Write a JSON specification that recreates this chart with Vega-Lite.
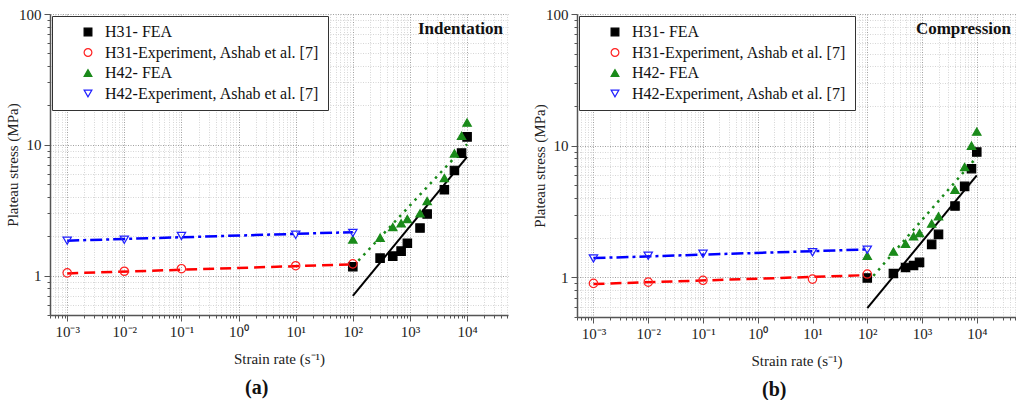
{
  "$schema": "https://vega.github.io/schema/vega-lite/v6.json",
  "padding": {"left": 5, "top": 7, "right": 0, "bottom": 0},
  "background": "white",
  "spacing": 24,
  "config": {
    "view": {"stroke": null},
    "font": "Liberation Serif",
    "legend": {"title": null, "orient": "top-left", "offset": 2, "padding": 8, "strokeColor": "#333", "fillColor": "white", "labelFont": "Liberation Serif", "labelFontSize": 16, "labelColor": "#111", "symbolOffset": 20, "labelOffset": 9, "rowPadding": 4.5, "symbolSize": 60, "symbolStrokeWidth": 1.2, "labelLimit": 400}
  },
  "resolve": {"scale": {"fill": "independent", "stroke": "independent", "shape": "independent"}},
  "datasets": {
    "pts": [
      {"p": "a", "s": "H31- FEA", "x": 100, "y": 1.17},
      {"p": "a", "s": "H31- FEA", "x": 300, "y": 1.36},
      {"p": "a", "s": "H31- FEA", "x": 500, "y": 1.41},
      {"p": "a", "s": "H31- FEA", "x": 700, "y": 1.54},
      {"p": "a", "s": "H31- FEA", "x": 900, "y": 1.77},
      {"p": "a", "s": "H31- FEA", "x": 1500, "y": 2.31},
      {"p": "a", "s": "H31- FEA", "x": 2000, "y": 2.96},
      {"p": "a", "s": "H31- FEA", "x": 4000, "y": 4.53},
      {"p": "a", "s": "H31- FEA", "x": 6000, "y": 6.37},
      {"p": "a", "s": "H31- FEA", "x": 8000, "y": 8.64},
      {"p": "a", "s": "H31- FEA", "x": 10000, "y": 11.5},
      {"p": "a", "s": "H31-Experiment, Ashab et al. [7]", "x": 0.001, "y": 1.05},
      {"p": "a", "s": "H31-Experiment, Ashab et al. [7]", "x": 0.01, "y": 1.08},
      {"p": "a", "s": "H31-Experiment, Ashab et al. [7]", "x": 0.1, "y": 1.13},
      {"p": "a", "s": "H31-Experiment, Ashab et al. [7]", "x": 10, "y": 1.19},
      {"p": "a", "s": "H31-Experiment, Ashab et al. [7]", "x": 100, "y": 1.23},
      {"p": "a", "s": "H42- FEA", "x": 100, "y": 1.89},
      {"p": "a", "s": "H42- FEA", "x": 300, "y": 1.95},
      {"p": "a", "s": "H42- FEA", "x": 500, "y": 2.35},
      {"p": "a", "s": "H42- FEA", "x": 700, "y": 2.51},
      {"p": "a", "s": "H42- FEA", "x": 900, "y": 2.71},
      {"p": "a", "s": "H42- FEA", "x": 1500, "y": 2.99},
      {"p": "a", "s": "H42- FEA", "x": 2000, "y": 3.72},
      {"p": "a", "s": "H42- FEA", "x": 4000, "y": 5.57},
      {"p": "a", "s": "H42- FEA", "x": 6000, "y": 8.59},
      {"p": "a", "s": "H42- FEA", "x": 8000, "y": 11.7},
      {"p": "a", "s": "H42- FEA", "x": 10000, "y": 14.8},
      {"p": "a", "s": "H42-Experiment, Ashab et al. [7]", "x": 0.001, "y": 1.85},
      {"p": "a", "s": "H42-Experiment, Ashab et al. [7]", "x": 0.01, "y": 1.88},
      {"p": "a", "s": "H42-Experiment, Ashab et al. [7]", "x": 0.1, "y": 2.01},
      {"p": "a", "s": "H42-Experiment, Ashab et al. [7]", "x": 10, "y": 2.05},
      {"p": "a", "s": "H42-Experiment, Ashab et al. [7]", "x": 100, "y": 2.12},
      {"p": "b", "s": "H31- FEA", "x": 100, "y": 0.99},
      {"p": "b", "s": "H31- FEA", "x": 300, "y": 1.07},
      {"p": "b", "s": "H31- FEA", "x": 500, "y": 1.19},
      {"p": "b", "s": "H31- FEA", "x": 700, "y": 1.23},
      {"p": "b", "s": "H31- FEA", "x": 900, "y": 1.30},
      {"p": "b", "s": "H31- FEA", "x": 1500, "y": 1.78},
      {"p": "b", "s": "H31- FEA", "x": 2000, "y": 2.12},
      {"p": "b", "s": "H31- FEA", "x": 4000, "y": 3.48},
      {"p": "b", "s": "H31- FEA", "x": 6000, "y": 4.91},
      {"p": "b", "s": "H31- FEA", "x": 8000, "y": 6.69},
      {"p": "b", "s": "H31- FEA", "x": 10000, "y": 8.95},
      {"p": "b", "s": "H31-Experiment, Ashab et al. [7]", "x": 0.001, "y": 0.90},
      {"p": "b", "s": "H31-Experiment, Ashab et al. [7]", "x": 0.01, "y": 0.92},
      {"p": "b", "s": "H31-Experiment, Ashab et al. [7]", "x": 0.1, "y": 0.95},
      {"p": "b", "s": "H31-Experiment, Ashab et al. [7]", "x": 10, "y": 0.97},
      {"p": "b", "s": "H31-Experiment, Ashab et al. [7]", "x": 100, "y": 1.06},
      {"p": "b", "s": "H42- FEA", "x": 100, "y": 1.46},
      {"p": "b", "s": "H42- FEA", "x": 300, "y": 1.57},
      {"p": "b", "s": "H42- FEA", "x": 500, "y": 1.80},
      {"p": "b", "s": "H42- FEA", "x": 700, "y": 2.05},
      {"p": "b", "s": "H42- FEA", "x": 900, "y": 2.17},
      {"p": "b", "s": "H42- FEA", "x": 1500, "y": 2.56},
      {"p": "b", "s": "H42- FEA", "x": 2000, "y": 2.91},
      {"p": "b", "s": "H42- FEA", "x": 4000, "y": 4.63},
      {"p": "b", "s": "H42- FEA", "x": 6000, "y": 6.89},
      {"p": "b", "s": "H42- FEA", "x": 8000, "y": 10.0},
      {"p": "b", "s": "H42- FEA", "x": 10000, "y": 12.8},
      {"p": "b", "s": "H42-Experiment, Ashab et al. [7]", "x": 0.001, "y": 1.39},
      {"p": "b", "s": "H42-Experiment, Ashab et al. [7]", "x": 0.01, "y": 1.46},
      {"p": "b", "s": "H42-Experiment, Ashab et al. [7]", "x": 0.1, "y": 1.51},
      {"p": "b", "s": "H42-Experiment, Ashab et al. [7]", "x": 10, "y": 1.55},
      {"p": "b", "s": "H42-Experiment, Ashab et al. [7]", "x": 100, "y": 1.62}
    ],
    "fits": [
      {"p": "a", "s": "H31- FEA", "x": 100, "y": 0.70},
      {"p": "a", "s": "H31- FEA", "x": 10000, "y": 8.1},
      {"p": "a", "s": "H42- FEA", "x": 125, "y": 1.30},
      {"p": "a", "s": "H42- FEA", "x": 10000, "y": 10.1},
      {"p": "a", "s": "H31-Experiment, Ashab et al. [7]", "x": 0.001, "y": 1.04},
      {"p": "a", "s": "H31-Experiment, Ashab et al. [7]", "x": 100, "y": 1.22},
      {"p": "a", "s": "H42-Experiment, Ashab et al. [7]", "x": 0.001, "y": 1.85},
      {"p": "a", "s": "H42-Experiment, Ashab et al. [7]", "x": 100, "y": 2.15},
      {"p": "b", "s": "H31- FEA", "x": 100, "y": 0.585},
      {"p": "b", "s": "H31- FEA", "x": 10000, "y": 5.95},
      {"p": "b", "s": "H42- FEA", "x": 105, "y": 0.93},
      {"p": "b", "s": "H42- FEA", "x": 10000, "y": 8.2},
      {"p": "b", "s": "H31-Experiment, Ashab et al. [7]", "x": 0.001, "y": 0.89},
      {"p": "b", "s": "H31-Experiment, Ashab et al. [7]", "x": 100, "y": 1.04},
      {"p": "b", "s": "H42-Experiment, Ashab et al. [7]", "x": 0.001, "y": 1.40},
      {"p": "b", "s": "H42-Experiment, Ashab et al. [7]", "x": 100, "y": 1.63}
    ]
  },
  "hconcat": [
    {
      "title": {"text": "(a)", "orient": "bottom", "anchor": "middle", "fontSize": 20, "fontWeight": "bold", "font": "Liberation Serif", "color": "#111", "offset": 12},
      "resolve": {"scale": {"fill": "independent", "stroke": "independent", "shape": "independent"}},
      "vconcat": [
        {
          "width": 458,
          "height": 301,
          "title": {"text": "Indentation", "anchor": "end", "frame": "group", "offset": -31, "dx": -5, "font": "Liberation Serif", "fontSize": 17, "fontWeight": "bold", "color": "#111"},
          "encoding": {
            "x": {"field": "x", "type": "quantitative",
              "scale": {"type": "log", "domain": [0.0005, 52000], "nice": false},
              "axis": {
                "title": "Strain rate (s⁻¹)", "titleFont": "Liberation Serif", "titleFontSize": 15, "titleFontWeight": "normal", "titleColor": "#222", "titlePadding": 12,
                "values": [0.0005,0.0006,0.0007,0.0008,0.0009,0.001,0.002,0.003,0.004,0.005,0.006,0.007,0.008,0.009,0.01,0.02,0.03,0.04,0.05,0.06,0.07,0.08,0.09,0.1,0.2,0.3,0.4,0.5,0.6,0.7,0.8,0.9,1,2,3,4,5,6,7,8,9,10,20,30,40,50,60,70,80,90,100,200,300,400,500,600,700,800,900,1000,2000,3000,4000,5000,6000,7000,8000,9000,10000,20000,30000,40000,50000],
                "labelExpr": "abs(log(datum.value)/LN10 - round(log(datum.value)/LN10)) < 0.001 ? '10' + replace(replace(replace(replace(replace(replace(''+round(log(datum.value)/LN10),'-','⁻'),'0','⁰'),'1','¹'),'2','²'),'3','³'),'4','⁴') : ''",
                "labelFont": "Liberation Serif", "labelFontSize": 15, "labelColor": "#222", "labelPadding": 3, "labelOverlap": false, "labelFlush": false, "labelBound": false,
                "grid": true,
                "gridColor": {"condition": {"test": "abs(log(datum.value)/LN10 - round(log(datum.value)/LN10)) < 0.001", "value": "#a0a0a0"}, "value": "#d6d6d6"},
                "gridDash": [1, 1.5],
                "tickSize": {"condition": {"test": "abs(log(datum.value)/LN10 - round(log(datum.value)/LN10)) < 0.001", "value": 6}, "value": 3},
                "tickColor": "#555", "domainColor": "#555", "domainWidth": 1.5
              }
            },
            "y": {"field": "y", "type": "quantitative",
              "scale": {"type": "log", "domain": [0.5, 100], "nice": false},
              "axis": {
                "title": "Plateau stress (MPa)", "titleFont": "Liberation Serif", "titleFontSize": 15, "titleFontWeight": "normal", "titleColor": "#222", "titlePadding": -2,
                "values": [0.5,0.6,0.7,0.8,0.9,1,2,3,4,5,6,7,8,9,10,20,30,40,50,60,70,80,90,100],
                "labelExpr": "abs(log(datum.value)/LN10 - round(log(datum.value)/LN10)) < 0.001 ? ''+datum.value : ''",
                "labelFont": "Liberation Serif", "labelFontSize": 15, "labelColor": "#222", "labelPadding": 3, "labelOverlap": false, "labelFlush": false, "labelBound": false,
                "grid": true,
                "gridColor": {"condition": {"test": "abs(log(datum.value)/LN10 - round(log(datum.value)/LN10)) < 0.001", "value": "#a0a0a0"}, "value": "#d6d6d6"},
                "gridDash": [1, 1.5],
                "tickSize": {"condition": {"test": "abs(log(datum.value)/LN10 - round(log(datum.value)/LN10)) < 0.001", "value": 6}, "value": 3},
                "tickColor": "#555", "domainColor": "#555", "domainWidth": 1.5
              }
            }
          },
          "layer": [
            {"data": {"name": "fits"}, "transform": [{"filter": "datum.p == 'a' && datum.s == 'H31- FEA'"}], "mark": {"type": "line", "color": "#000000", "strokeWidth": 2}, "encoding": {}},
            {"data": {"name": "fits"}, "transform": [{"filter": "datum.p == 'a' && datum.s == 'H42- FEA'"}], "mark": {"type": "line", "color": "#1a8a1a", "strokeWidth": 2.5, "strokeDash": [2.5, 5]}, "encoding": {}},
            {"data": {"name": "fits"}, "transform": [{"filter": "datum.p == 'a' && datum.s == 'H31-Experiment, Ashab et al. [7]'"}], "mark": {"type": "line", "color": "#ff0000", "strokeWidth": 2.5, "strokeDash": [11, 6]}, "encoding": {}},
            {"data": {"name": "fits"}, "transform": [{"filter": "datum.p == 'a' && datum.s == 'H42-Experiment, Ashab et al. [7]'"}], "mark": {"type": "line", "color": "#0000ff", "strokeWidth": 2.5, "strokeDash": [12, 4, 3, 4]}, "encoding": {}},
            {"data": {"name": "pts"}, "transform": [{"filter": "datum.p == 'a'"}],
              "mark": {"type": "point", "size": 70, "opacity": 1, "strokeWidth": 1.2},
              "encoding": {
                "shape": {"field": "s", "type": "nominal", "scale": {"domain": ["H31- FEA", "H31-Experiment, Ashab et al. [7]", "H42- FEA", "H42-Experiment, Ashab et al. [7]"], "range": ["square", "circle", "triangle-up", "triangle-down"]}},
                "fill": {"field": "s", "type": "nominal", "scale": {"domain": ["H31- FEA", "H31-Experiment, Ashab et al. [7]", "H42- FEA", "H42-Experiment, Ashab et al. [7]"], "range": ["#000000", "transparent", "#1a8a1a", "transparent"]}},
                "stroke": {"field": "s", "type": "nominal", "scale": {"domain": ["H31- FEA", "H31-Experiment, Ashab et al. [7]", "H42- FEA", "H42-Experiment, Ashab et al. [7]"], "range": ["#000000", "#ff2020", "#1a8a1a", "#2020ff"]}}
              }
            }
          ]
        }
      ]
    },
    {
      "title": {"text": "(b)", "orient": "bottom", "anchor": "middle", "fontSize": 20, "fontWeight": "bold", "font": "Liberation Serif", "color": "#111", "offset": 12},
      "resolve": {"scale": {"fill": "independent", "stroke": "independent", "shape": "independent"}},
      "vconcat": [
        {
          "width": 439,
          "height": 303,
          "title": {"text": "Compression", "anchor": "end", "frame": "group", "offset": -31, "dx": -5, "font": "Liberation Serif", "fontSize": 17, "fontWeight": "bold", "color": "#111"},
          "encoding": {
            "x": {"field": "x", "type": "quantitative",
              "scale": {"type": "log", "domain": [0.0005, 52000], "nice": false},
              "axis": {
                "title": "Strain rate (s⁻¹)", "titleFont": "Liberation Serif", "titleFontSize": 15, "titleFontWeight": "normal", "titleColor": "#222", "titlePadding": 12,
                "values": [0.0005,0.0006,0.0007,0.0008,0.0009,0.001,0.002,0.003,0.004,0.005,0.006,0.007,0.008,0.009,0.01,0.02,0.03,0.04,0.05,0.06,0.07,0.08,0.09,0.1,0.2,0.3,0.4,0.5,0.6,0.7,0.8,0.9,1,2,3,4,5,6,7,8,9,10,20,30,40,50,60,70,80,90,100,200,300,400,500,600,700,800,900,1000,2000,3000,4000,5000,6000,7000,8000,9000,10000,20000,30000,40000,50000],
                "labelExpr": "abs(log(datum.value)/LN10 - round(log(datum.value)/LN10)) < 0.001 ? '10' + replace(replace(replace(replace(replace(replace(''+round(log(datum.value)/LN10),'-','⁻'),'0','⁰'),'1','¹'),'2','²'),'3','³'),'4','⁴') : ''",
                "labelFont": "Liberation Serif", "labelFontSize": 15, "labelColor": "#222", "labelPadding": 3, "labelOverlap": false, "labelFlush": false, "labelBound": false,
                "grid": true,
                "gridColor": {"condition": {"test": "abs(log(datum.value)/LN10 - round(log(datum.value)/LN10)) < 0.001", "value": "#a0a0a0"}, "value": "#d6d6d6"},
                "gridDash": [1, 1.5],
                "tickSize": {"condition": {"test": "abs(log(datum.value)/LN10 - round(log(datum.value)/LN10)) < 0.001", "value": 6}, "value": 3},
                "tickColor": "#555", "domainColor": "#555", "domainWidth": 1.5
              }
            },
            "y": {"field": "y", "type": "quantitative",
              "scale": {"type": "log", "domain": [0.5, 100], "nice": false},
              "axis": {
                "title": "Plateau stress (MPa)", "titleFont": "Liberation Serif", "titleFontSize": 15, "titleFontWeight": "normal", "titleColor": "#222", "titlePadding": -2,
                "values": [0.5,0.6,0.7,0.8,0.9,1,2,3,4,5,6,7,8,9,10,20,30,40,50,60,70,80,90,100],
                "labelExpr": "abs(log(datum.value)/LN10 - round(log(datum.value)/LN10)) < 0.001 ? ''+datum.value : ''",
                "labelFont": "Liberation Serif", "labelFontSize": 15, "labelColor": "#222", "labelPadding": 3, "labelOverlap": false, "labelFlush": false, "labelBound": false,
                "grid": true,
                "gridColor": {"condition": {"test": "abs(log(datum.value)/LN10 - round(log(datum.value)/LN10)) < 0.001", "value": "#a0a0a0"}, "value": "#d6d6d6"},
                "gridDash": [1, 1.5],
                "tickSize": {"condition": {"test": "abs(log(datum.value)/LN10 - round(log(datum.value)/LN10)) < 0.001", "value": 6}, "value": 3},
                "tickColor": "#555", "domainColor": "#555", "domainWidth": 1.5
              }
            }
          },
          "layer": [
            {"data": {"name": "fits"}, "transform": [{"filter": "datum.p == 'b' && datum.s == 'H31- FEA'"}], "mark": {"type": "line", "color": "#000000", "strokeWidth": 2}, "encoding": {}},
            {"data": {"name": "fits"}, "transform": [{"filter": "datum.p == 'b' && datum.s == 'H42- FEA'"}], "mark": {"type": "line", "color": "#1a8a1a", "strokeWidth": 2.5, "strokeDash": [2.5, 5]}, "encoding": {}},
            {"data": {"name": "fits"}, "transform": [{"filter": "datum.p == 'b' && datum.s == 'H31-Experiment, Ashab et al. [7]'"}], "mark": {"type": "line", "color": "#ff0000", "strokeWidth": 2.5, "strokeDash": [11, 6]}, "encoding": {}},
            {"data": {"name": "fits"}, "transform": [{"filter": "datum.p == 'b' && datum.s == 'H42-Experiment, Ashab et al. [7]'"}], "mark": {"type": "line", "color": "#0000ff", "strokeWidth": 2.5, "strokeDash": [12, 4, 3, 4]}, "encoding": {}},
            {"data": {"name": "pts"}, "transform": [{"filter": "datum.p == 'b'"}],
              "mark": {"type": "point", "size": 70, "opacity": 1, "strokeWidth": 1.2},
              "encoding": {
                "shape": {"field": "s", "type": "nominal", "scale": {"domain": ["H31- FEA", "H31-Experiment, Ashab et al. [7]", "H42- FEA", "H42-Experiment, Ashab et al. [7]"], "range": ["square", "circle", "triangle-up", "triangle-down"]}},
                "fill": {"field": "s", "type": "nominal", "scale": {"domain": ["H31- FEA", "H31-Experiment, Ashab et al. [7]", "H42- FEA", "H42-Experiment, Ashab et al. [7]"], "range": ["#000000", "transparent", "#1a8a1a", "transparent"]}},
                "stroke": {"field": "s", "type": "nominal", "scale": {"domain": ["H31- FEA", "H31-Experiment, Ashab et al. [7]", "H42- FEA", "H42-Experiment, Ashab et al. [7]"], "range": ["#000000", "#ff2020", "#1a8a1a", "#2020ff"]}}
              }
            }
          ]
        }
      ]
    }
  ]
}
